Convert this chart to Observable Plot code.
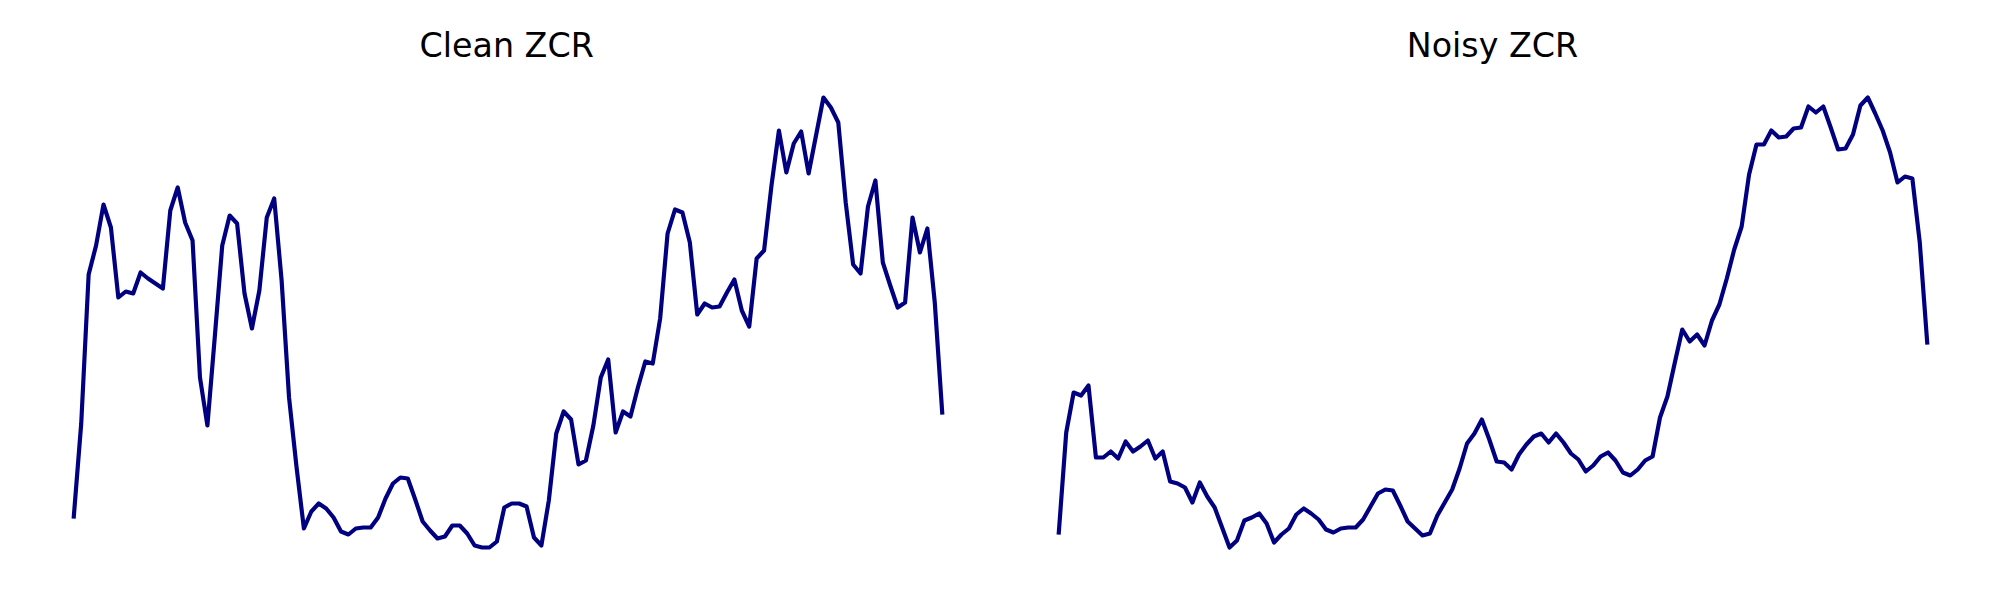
<!DOCTYPE html>
<html>
<head>
<meta charset="utf-8">
<script src="https://cdn.jsdelivr.net/npm/d3@7"></script>
<script src="https://cdn.jsdelivr.net/npm/@observablehq/plot@0.6"></script>
<style>
  html, body { margin: 0; padding: 0; background: #fff; }
  #wrap { position: relative; width: 2000px; height: 600px; background: #fff; overflow: hidden; }
  .title { position: absolute; top: 29px; width: 600px; text-align: center;
           font-family: "DejaVu Sans", sans-serif; font-size: 33.3px; line-height: 33.3px; color: #000; white-space: nowrap; }
  .panel { position: absolute; top: 0; }
</style>
</head>
<body>
<div id="wrap"></div>
<script>
// Panel titles
const titles = ["Clean ZCR", "Noisy ZCR"];

// Zero-crossing rate per frame (relative scale)
const cleanZCR = [
  0.056, 0.149, 0.298, 0.327, 0.368, 0.345, 0.275, 0.281, 0.279, 0.300,
  0.294, 0.289, 0.284, 0.362, 0.385, 0.350, 0.332, 0.195, 0.147, 0.236,
  0.327, 0.357, 0.349, 0.279, 0.244, 0.282, 0.355, 0.374, 0.292, 0.175,
  0.106, 0.044, 0.061, 0.069, 0.064, 0.055, 0.041, 0.038, 0.044, 0.045,
  0.045, 0.055, 0.074, 0.089, 0.095, 0.094, 0.073, 0.051, 0.042, 0.034,
  0.036, 0.047, 0.047, 0.039, 0.027, 0.025, 0.025, 0.031, 0.065, 0.069,
  0.069, 0.066, 0.035, 0.027, 0.072, 0.139, 0.161, 0.153, 0.108, 0.112,
  0.147, 0.195, 0.213, 0.140, 0.161, 0.156, 0.185, 0.211, 0.209, 0.254,
  0.339, 0.363, 0.360, 0.330, 0.258, 0.269, 0.265, 0.266, 0.280, 0.293,
  0.262, 0.246, 0.314, 0.322, 0.387, 0.442, 0.400, 0.429, 0.441, 0.399,
  0.437, 0.475, 0.465, 0.450, 0.370, 0.308, 0.299, 0.366, 0.392, 0.310,
  0.287, 0.265, 0.270, 0.355, 0.320, 0.344, 0.270, 0.160
];

const noisyZCR = [
  0.040, 0.140, 0.180, 0.177, 0.187, 0.115, 0.115, 0.121, 0.114, 0.131,
  0.121, 0.126, 0.132, 0.114, 0.121, 0.091, 0.089, 0.085, 0.070, 0.090,
  0.076, 0.065, 0.045, 0.025, 0.032, 0.052, 0.055, 0.059, 0.049, 0.030,
  0.038, 0.044, 0.058, 0.064, 0.059, 0.053, 0.043, 0.040, 0.044, 0.045,
  0.045, 0.053, 0.066, 0.079, 0.083, 0.082, 0.067, 0.051, 0.044, 0.037,
  0.039, 0.057, 0.070, 0.083, 0.104, 0.129, 0.139, 0.153, 0.133, 0.111,
  0.110, 0.103, 0.118, 0.128, 0.136, 0.139, 0.130, 0.139, 0.130, 0.119,
  0.113, 0.101, 0.107, 0.116, 0.120, 0.112, 0.100, 0.097, 0.103, 0.112,
  0.116, 0.155, 0.176, 0.210, 0.243, 0.231, 0.238, 0.227, 0.252, 0.268,
  0.294, 0.323, 0.346, 0.398, 0.428, 0.428, 0.442, 0.435, 0.436, 0.444,
  0.445, 0.466, 0.460, 0.466, 0.445, 0.423, 0.424, 0.438, 0.467, 0.475,
  0.459, 0.442, 0.420, 0.390, 0.396, 0.394, 0.330, 0.230
];

const series = [cleanZCR, noisyZCR];
const panelLeft = [0, 1000];
const margins = [
  {left: 73.3, right: 58.3},
  {left: 58.3, right: 73.3}
];
const titleCenter = [506.7, 1492.5];

const wrap = document.getElementById("wrap");

series.forEach((vals, i) => {
  const data = vals.map((v, k) => ({frame: k, zcr: v}));
  const chart = Plot.plot({
    width: 1000,
    height: 600,
    marginLeft: margins[i].left,
    marginRight: margins[i].right,
    marginTop: 97,
    marginBottom: 53,
    x: {axis: null, domain: d3.extent(data, d => d.frame)},
    y: {axis: null, domain: d3.extent(data, d => d.zcr)},
    style: {background: "transparent", overflow: "visible"},
    marks: [
      Plot.line(data, {
        x: "frame",
        y: "zcr",
        stroke: "#000080",
        strokeWidth: 4.17,
        strokeLinejoin: "round",
        strokeLinecap: "square"
      })
    ]
  });
  const holder = document.createElement("div");
  holder.className = "panel";
  holder.style.left = panelLeft[i] + "px";
  holder.appendChild(chart);
  wrap.appendChild(holder);

  const t = document.createElement("div");
  t.className = "title";
  t.textContent = titles[i];
  t.style.left = (titleCenter[i] - 300) + "px";
  wrap.appendChild(t);
});
</script>
</body>
</html>
